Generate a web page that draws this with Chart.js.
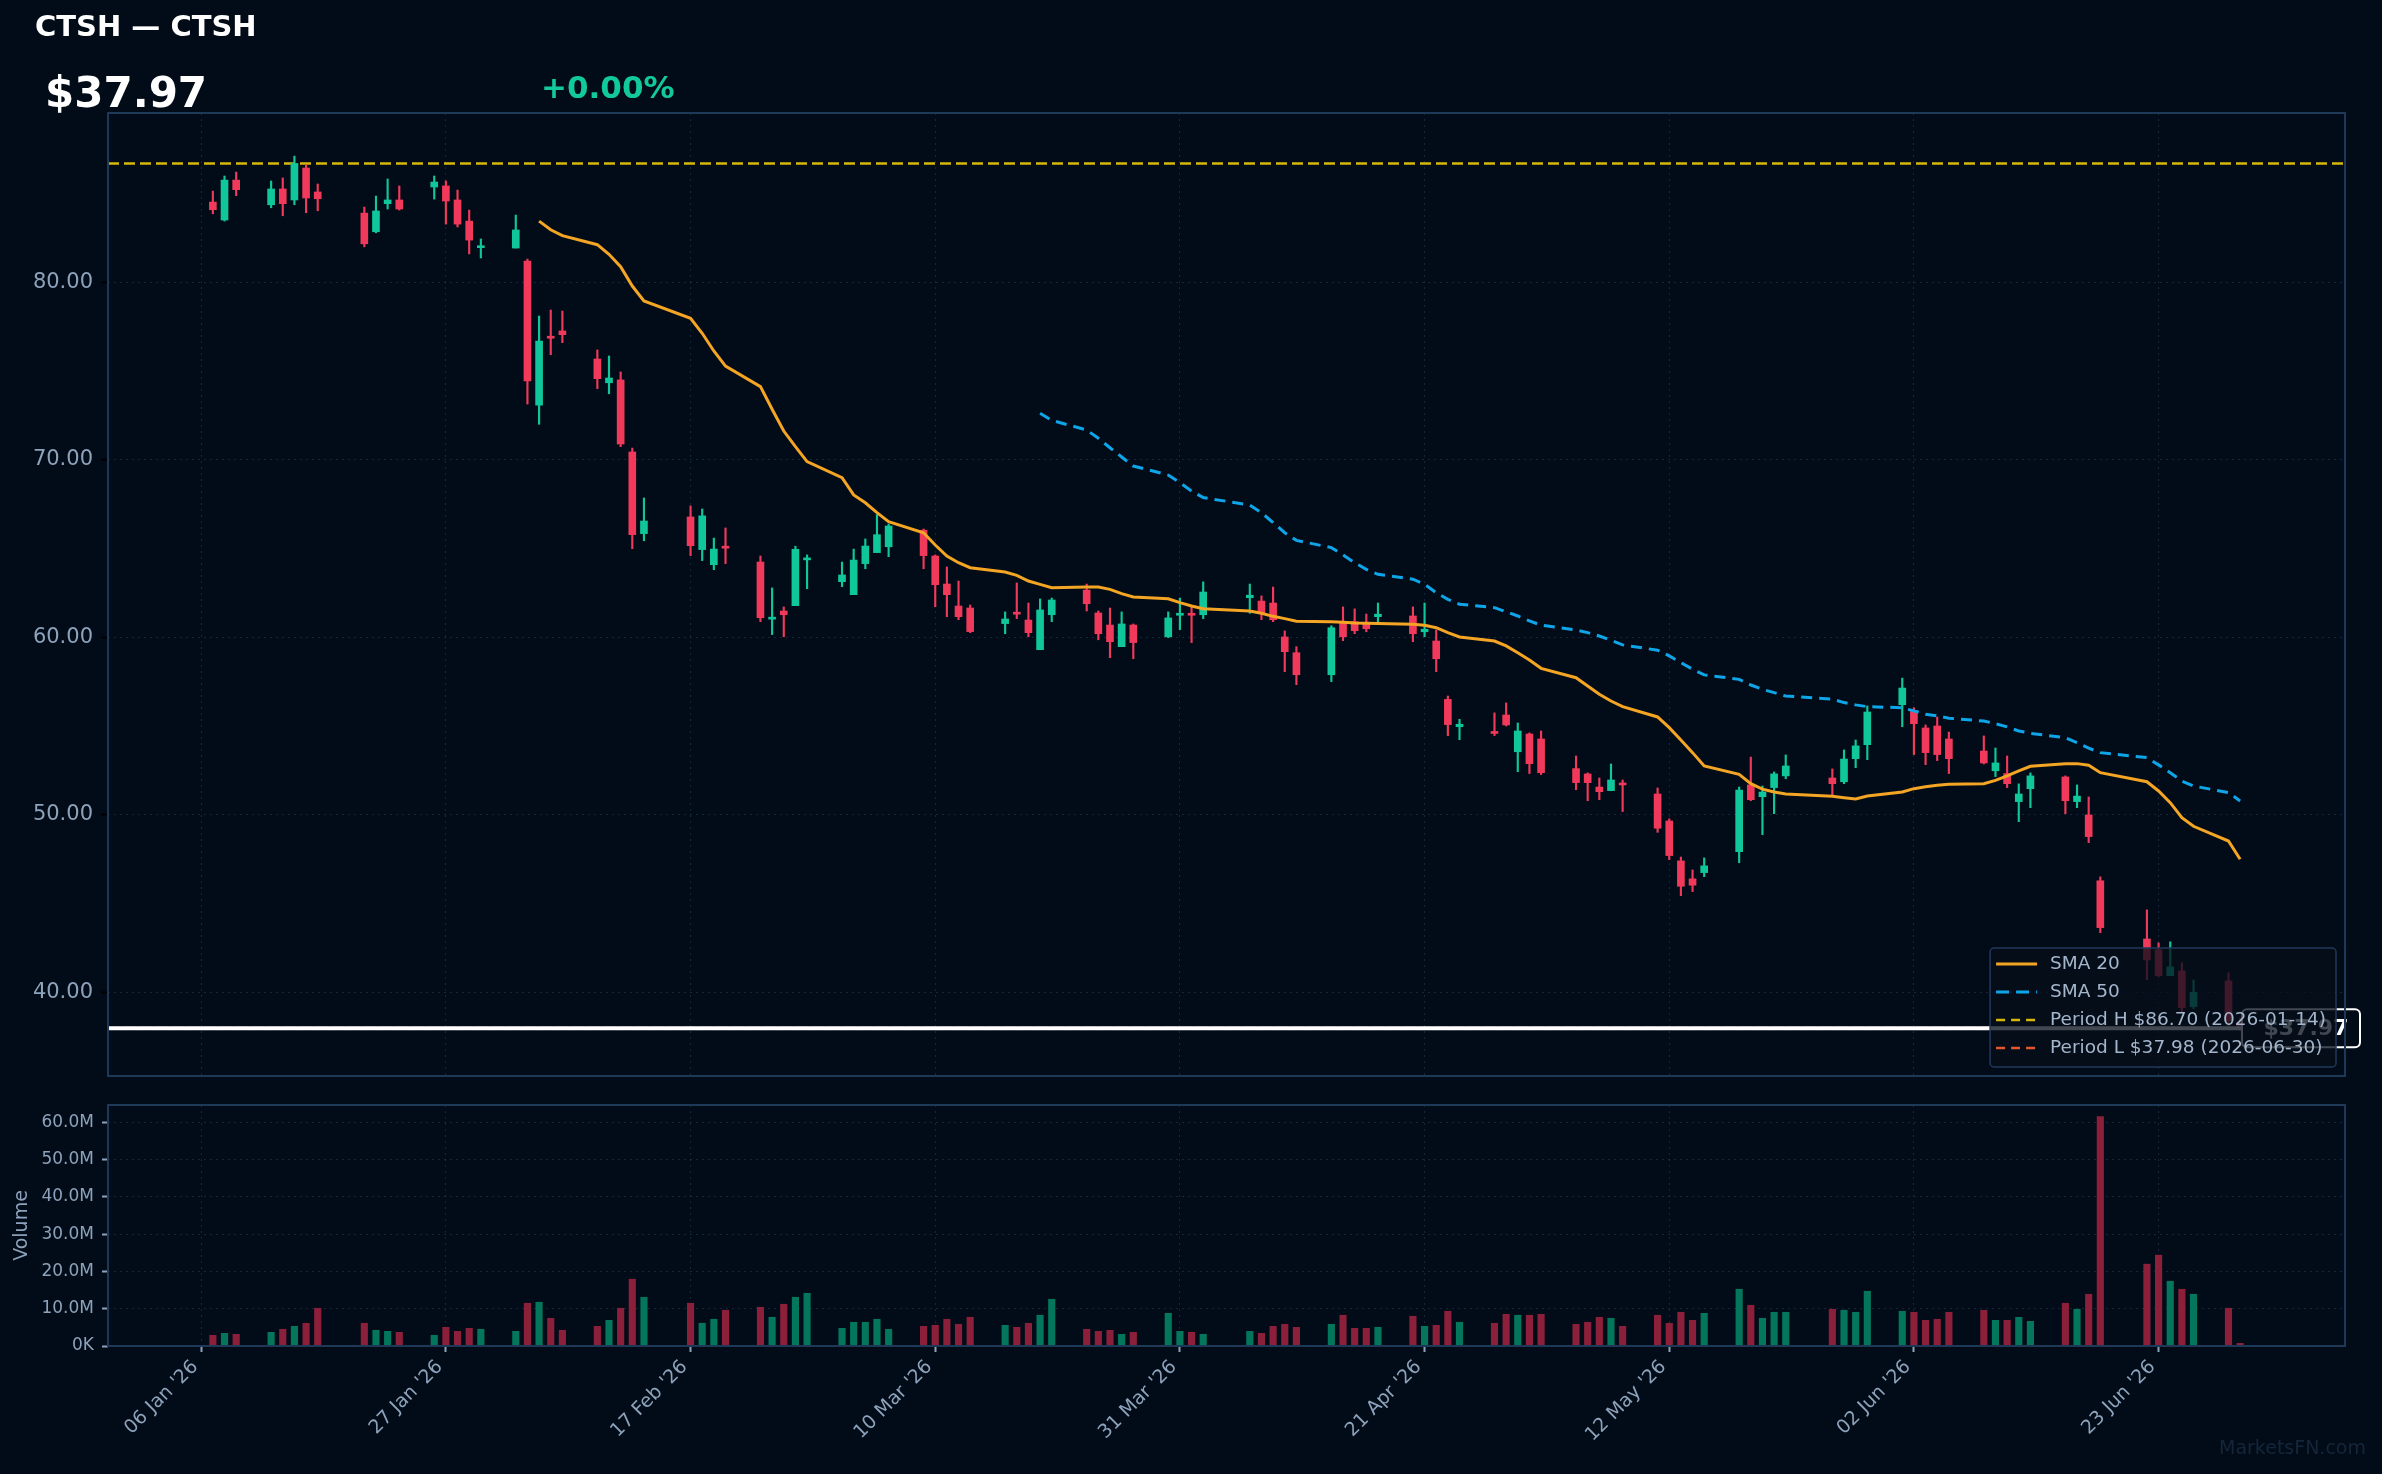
<!DOCTYPE html>
<html lang="en">
<head>
<meta charset="UTF-8">
<title>CTSH — CTSH</title>
<script src="https://cdn.jsdelivr.net/npm/chart.js@4"></script>
<style>
    body {
        margin: 0;
        width: 2382px;
        height: 1474px;
        overflow: hidden;
        position: relative;
        background: #020c18;
        font-family: 'DejaVu Sans', sans-serif;
    }
    .hdr {
        position: absolute;
        line-height: 1;
        white-space: nowrap;
        font-weight: bold;
        z-index: 2;
    }
    #title { left: 35px; top: 12px; font-size: 29px; color: #ffffff; }
    #lastPrice { left: 45px; top: 72px; font-size: 42px; color: #ffffff; }
    #change { left: 541px; top: 72px; font-size: 31px; color: #12c99b; }
    #watermark {
        position: absolute;
        right: 16px;
        top: 1438px;
        font-size: 19px;
        line-height: 1;
        color: #15263a;
    }
    #priceCanvas { position: absolute; left: 0; top: 1px; }
    #volumeCanvas { position: absolute; left: 0; top: 1080px; }
</style>
</head>
<body>
<div class="hdr" id="title">CTSH — CTSH</div>
<div class="hdr" id="lastPrice">$37.97</div>
<div class="hdr" id="change">+0.00%</div>
<canvas id="priceCanvas" width="2382" height="1100"></canvas>
<canvas id="volumeCanvas" width="2382" height="394"></canvas>
<div id="watermark">MarketsFN.com</div>

<script>
// ---- data ----
const dates = [
    '2026-01-07','2026-01-08','2026-01-09',
    '2026-01-12','2026-01-13','2026-01-14','2026-01-15','2026-01-16',
    '2026-01-20','2026-01-21','2026-01-22','2026-01-23',
    '2026-01-26','2026-01-27','2026-01-28','2026-01-29','2026-01-30',
    '2026-02-02','2026-02-03','2026-02-04','2026-02-05','2026-02-06',
    '2026-02-09','2026-02-10','2026-02-11','2026-02-12','2026-02-13',
    '2026-02-17','2026-02-18','2026-02-19','2026-02-20',
    '2026-02-23','2026-02-24','2026-02-25','2026-02-26','2026-02-27',
    '2026-03-02','2026-03-03','2026-03-04','2026-03-05','2026-03-06',
    '2026-03-09','2026-03-10','2026-03-11','2026-03-12','2026-03-13',
    '2026-03-16','2026-03-17','2026-03-18','2026-03-19','2026-03-20',
    '2026-03-23','2026-03-24','2026-03-25','2026-03-26','2026-03-27',
    '2026-03-30','2026-03-31','2026-04-01','2026-04-02',
    '2026-04-06','2026-04-07','2026-04-08','2026-04-09','2026-04-10',
    '2026-04-13','2026-04-14','2026-04-15','2026-04-16','2026-04-17',
    '2026-04-20','2026-04-21','2026-04-22','2026-04-23','2026-04-24',
    '2026-04-27','2026-04-28','2026-04-29','2026-04-30','2026-05-01',
    '2026-05-04','2026-05-05','2026-05-06','2026-05-07','2026-05-08',
    '2026-05-11','2026-05-12','2026-05-13','2026-05-14','2026-05-15',
    '2026-05-18','2026-05-19','2026-05-20','2026-05-21','2026-05-22',
    '2026-05-26','2026-05-27','2026-05-28','2026-05-29',
    '2026-06-01','2026-06-02','2026-06-03','2026-06-04','2026-06-05',
    '2026-06-08','2026-06-09','2026-06-10','2026-06-11','2026-06-12',
    '2026-06-15','2026-06-16','2026-06-17','2026-06-18',
    '2026-06-22','2026-06-23','2026-06-24','2026-06-25','2026-06-26',
    '2026-06-29','2026-06-30'
];

const openP = [
    84.52,83.51,85.76,84.37,85.26,84.64,86.44,85.09,83.90,82.85,84.43,84.64,85.37,85.43,84.64,83.45,81.95,81.93,81.20,73.08,
    76.92,77.26,75.68,74.34,74.50,70.44,65.84,66.78,64.94,64.09,65.10,64.24,61.02,61.48,61.78,64.36,63.13,62.40,64.15,64.77,
    65.10,66.03,64.58,63.00,61.76,61.65,60.77,61.36,60.97,59.30,61.27,62.66,61.37,60.69,59.47,60.69,60.03,61.24,61.28,61.27,
    62.23,62.04,61.93,60.02,59.13,57.89,60.80,60.88,60.77,61.16,61.20,60.31,59.79,56.50,54.96,54.66,55.62,53.55,54.55,54.27,
    52.60,52.30,51.56,51.36,51.75,51.17,49.65,47.40,46.39,46.74,47.92,51.68,51.02,51.53,52.19,52.07,51.86,53.16,53.95,56.20,
    55.86,54.89,55.00,54.27,53.59,52.48,52.32,50.74,51.47,52.13,50.74,49.99,46.28,43.00,42.39,40.93,41.20,39.19,40.64,38.30
];
const highP = [
    85.14,85.99,86.21,85.71,85.88,87.11,86.61,85.54,84.24,84.86,85.82,85.43,85.99,85.71,85.20,84.07,82.44,83.79,81.31,78.10,
    78.44,78.38,76.19,75.85,74.95,70.66,67.85,67.40,67.23,65.59,66.16,64.58,62.78,61.71,65.13,64.64,64.24,64.97,65.54,66.91,
    66.38,66.10,64.64,63.96,63.17,61.82,61.43,63.06,61.93,62.16,62.21,63.00,61.48,61.65,61.43,60.75,61.43,62.21,61.71,63.12,
    63.00,62.33,62.83,60.36,59.47,60.65,61.71,61.60,61.31,61.93,61.71,61.93,60.41,56.69,55.38,55.74,56.30,55.17,54.61,54.72,
    53.31,52.36,52.07,52.86,51.96,51.51,49.77,47.62,46.89,47.57,51.56,53.25,51.62,52.41,53.37,52.58,53.65,54.21,56.13,57.70,
    56.03,55.06,55.51,54.66,54.44,53.76,53.31,51.74,52.36,52.19,51.68,51.00,46.50,44.64,42.78,42.84,41.66,40.69,41.10,38.55
];
const lowP = [
    83.86,83.45,84.88,84.20,83.75,84.37,83.92,84.03,82.00,82.79,84.13,84.07,84.69,83.28,83.12,81.60,81.37,81.93,73.14,72.00,
    75.92,76.60,74.01,73.72,70.74,64.99,65.44,64.60,64.32,63.81,64.15,60.88,60.15,60.03,61.78,62.74,62.85,62.40,63.86,64.77,
    64.54,63.86,61.72,61.16,60.99,60.26,60.20,61.05,60.03,59.30,60.88,61.48,59.86,58.85,59.47,58.79,59.98,60.43,59.70,61.05,
    61.35,60.99,60.88,58.06,57.33,57.50,59.81,60.20,60.31,60.88,59.75,60.03,58.06,54.46,54.23,54.46,55.00,52.43,52.32,52.26,
    51.41,50.79,50.85,51.36,50.18,49.01,47.47,45.44,45.67,46.51,47.30,50.79,48.88,50.06,52.03,51.12,51.75,52.65,53.10,54.96,
    53.39,52.82,53.05,52.32,52.86,52.15,51.53,49.61,50.40,50.06,50.40,48.43,43.36,40.71,40.88,40.93,38.85,39.08,38.10,37.85
];
const closeP = [
    84.09,85.76,85.22,85.26,84.43,86.70,84.75,84.71,82.17,84.02,84.64,84.13,85.65,84.58,83.28,82.38,82.05,82.95,74.44,76.69,
    76.85,77.05,74.57,74.61,70.89,65.78,66.55,65.16,66.84,64.97,65.02,61.10,61.08,61.27,64.96,64.41,63.51,64.35,65.14,65.78,
    66.27,64.60,62.96,62.40,61.16,60.32,61.03,61.30,60.26,61.54,62.10,61.89,60.20,59.75,60.75,59.70,61.09,61.35,61.24,62.55,
    62.37,61.33,60.99,59.19,57.89,60.54,60.03,60.37,60.48,61.30,60.20,60.45,58.79,55.08,55.10,54.58,55.06,54.72,52.88,52.37,
    51.81,51.81,51.30,51.96,51.68,49.24,47.70,45.97,46.03,47.12,51.39,50.85,51.28,52.30,52.75,51.75,53.14,53.88,55.79,57.14,
    55.13,53.50,53.39,53.16,52.92,52.92,51.75,51.17,52.19,50.79,51.05,48.77,43.64,41.82,40.93,41.43,39.13,40.00,38.40,37.98
];
// volume in millions
const volumeM = [
    2.86,3.40,3.13,3.67,4.48,5.28,6.09,10.12,6.09,4.21,3.94,3.67,2.86,5.01,3.94,4.74,4.48,3.94,11.46,11.73,
    7.43,4.21,5.28,6.89,10.12,17.90,13.07,11.46,6.09,7.16,9.58,10.38,7.70,11.19,13.07,14.14,4.74,6.36,6.36,7.16,
    4.48,5.28,5.55,7.16,5.82,7.70,5.55,5.01,6.09,8.24,12.53,4.48,3.94,4.21,3.13,3.67,8.77,3.94,3.67,3.13,
    3.94,3.40,5.28,5.82,5.01,5.82,8.24,4.74,4.74,5.01,7.97,5.28,5.55,9.31,6.36,6.09,8.50,8.24,8.24,8.50,
    5.82,6.36,7.70,7.43,5.28,8.24,6.09,9.04,6.89,8.77,15.22,10.92,7.43,9.04,9.04,9.85,9.58,9.04,14.68,9.31,
    9.04,6.89,7.16,9.04,9.58,6.89,6.89,7.70,6.62,11.46,9.85,13.88,61.50,21.93,24.35,17.37,15.22,13.88,10.12,0.72
];
// moving averages, aligned to the last dates
const sma20 = [
    83.45,82.96,82.63,82.12,81.58,80.88,79.79,78.95,77.97,77.13,76.13,75.28,74.12,72.85,71.62,70.74,69.90,68.99,68.02,67.58,
    67.02,66.51,65.89,65.20,64.58,64.20,63.92,63.68,63.49,63.17,62.98,62.79,62.83,62.83,62.70,62.46,62.27,62.17,61.95,61.76,
    61.61,61.48,61.35,61.18,61.05,60.90,60.88,60.85,60.81,60.79,60.77,60.73,60.68,60.54,60.26,60.02,59.79,59.51,59.13,58.72,
    58.25,57.72,57.26,56.79,56.41,56.09,55.51,54.91,54.21,53.50,52.75,52.28,51.75,51.44,51.28,51.17,51.04,50.96,50.89,51.06,
    51.28,51.47,51.58,51.66,51.72,51.75,51.94,52.19,52.47,52.73,52.88,52.88,52.79,52.37,51.86,51.34,50.68,49.84,49.35,48.52,
    47.49
];
const sma50 = [
    72.62,72.22,71.68,71.21,70.68,70.16,69.65,69.14,68.71,68.24,67.87,67.45,67.02,66.46,65.89,65.46,65.05,64.64,64.20,63.83,
    63.55,63.27,62.99,62.51,62.14,61.86,61.67,61.44,61.20,60.92,60.68,60.41,60.26,60.07,59.83,59.57,59.27,58.95,58.57,58.20,
    57.88,57.63,57.31,57.07,56.88,56.69,56.51,56.32,56.19,56.09,56.03,55.85,55.66,55.57,55.44,55.28,55.13,54.95,54.72,54.59,
    54.34,54.06,53.75,53.50,53.22,52.81,52.37,51.90,51.62,51.25,50.78
];

const tickDates = ['2026-01-06','2026-01-27','2026-02-17','2026-03-10','2026-03-31','2026-04-21','2026-05-12','2026-06-02','2026-06-23'];
const tickLabels = ["06 Jan '26","27 Jan '26","17 Feb '26","10 Mar '26","31 Mar '26","21 Apr '26","12 May '26","02 Jun '26","23 Jun '26"];
const seriesNames = ['SMA 20', 'SMA 50'];
const periodHigh = 86.70, periodHighDate = '2026-01-14';
const periodLow = 37.98, periodLowDate = '2026-06-30';
const lastClose = 37.97;

// ---- styling ----
const C = {
    up: '#0fc79b', down: '#f0395b',
    volUp: '#03765b', volDown: '#8c1f3a',
    sma20: '#f5a524', sma50: '#0ea5e9',
    high: '#d6b70a', low: '#e4572e',
    grid: 'rgba(70,100,140,0.30)', frame: '#1e3858', tick: '#8da2bb'
};
Chart.defaults.font.family = "'DejaVu Sans', sans-serif";

const day0 = Date.UTC(2026, 0, 6);
const dayNum = s => (Date.parse(s + 'T00:00:00Z') - day0) / 864e5;
const xDays = dates.map(dayNum);
const isUp = closeP.map((c, i) => c >= openP[i]);
const setDateTicks = s => { s.ticks = tickDates.map(d => ({ value: dayNum(d) })); };
const xMin = -8, xMax = 184;

function strokeFrame(chart) {
    const { ctx, chartArea: a } = chart;
    ctx.save();
    ctx.strokeStyle = C.frame;
    ctx.lineWidth = 2;
    ctx.strokeRect(a.left, a.top, a.width, a.height);
    ctx.restore();
}

function hLine(ctx, a, y, color, dash, width) {
    ctx.save();
    ctx.strokeStyle = color;
    ctx.lineWidth = width;
    ctx.setLineDash(dash);
    ctx.beginPath();
    ctx.moveTo(a.left, y);
    ctx.lineTo(a.right, y);
    ctx.stroke();
    ctx.restore();
}

const priceOverlay = {
    id: 'priceOverlay',
    beforeDatasetsDraw(chart) {
        const { ctx, chartArea: a, scales: { y } } = chart;
        hLine(ctx, a, y.getPixelForValue(periodHigh), C.high, [11, 5], 2.5);
        hLine(ctx, a, y.getPixelForValue(periodLow), C.low, [11, 5], 2.5);
    },
    afterDatasetsDraw(chart) {
        const { ctx, chartArea: a, scales: { y } } = chart;
        const py = y.getPixelForValue(lastClose);
        hLine(ctx, a, py, '#ffffff', [], 4);

        // last price tag
        ctx.save();
        ctx.beginPath();
        ctx.roundRect(a.right - 103, py - 19, 118, 38, 5);
        ctx.fillStyle = '#020c18';
        ctx.fill();
        ctx.lineWidth = 2;
        ctx.strokeStyle = '#ffffff';
        ctx.stroke();
        ctx.fillStyle = '#ffffff';
        ctx.font = "bold 22px 'DejaVu Sans'";
        ctx.textAlign = 'center';
        ctx.textBaseline = 'middle';
        ctx.fillText('$' + lastClose.toFixed(2), a.right - 39, py + 1);
        ctx.restore();

        // legend
        const items = [
            { text: seriesNames[0], color: C.sma20, dash: [], width: 3 },
            { text: seriesNames[1], color: C.sma50, dash: [13, 7], width: 3 },
            { text: `Period H $${periodHigh.toFixed(2)} (${periodHighDate})`, color: C.high, dash: [9, 6], width: 2.5 },
            { text: `Period L $${periodLow.toFixed(2)} (${periodLowDate})`, color: C.low, dash: [9, 6], width: 2.5 }
        ];
        ctx.save();
        ctx.font = "18.5px 'DejaVu Sans'";
        const maxW = Math.max(...items.map(it => ctx.measureText(it.text).width));
        const boxW = 6 + 41 + 13 + maxW + 10;
        const boxH = 119;
        const bx = a.right - 9 - boxW, by = a.bottom - 9 - boxH;
        ctx.beginPath();
        ctx.roundRect(bx, by, boxW, boxH, 4);
        ctx.fillStyle = 'rgba(6,14,26,0.76)';
        ctx.fill();
        ctx.lineWidth = 1.5;
        ctx.strokeStyle = '#22385a';
        ctx.stroke();
        items.forEach((it, i) => {
            const ry = by + 16 + i * 28;
            ctx.strokeStyle = it.color;
            ctx.lineWidth = it.width;
            ctx.setLineDash(it.dash);
            ctx.beginPath();
            ctx.moveTo(bx + 6, ry);
            ctx.lineTo(bx + 47, ry);
            ctx.stroke();
            ctx.setLineDash([]);
            ctx.fillStyle = '#a3b6cc';
            ctx.textBaseline = 'middle';
            ctx.fillText(it.text, bx + 60, ry);
        });
        ctx.restore();

        strokeFrame(chart);
    }
};

new Chart(document.getElementById('priceCanvas'), {
    type: 'bar',
    data: {
        datasets: [
            {
                type: 'line', label: seriesNames[0],
                data: sma20.map((v, i) => ({ x: xDays[xDays.length - sma20.length + i], y: v })),
                borderColor: C.sma20, borderWidth: 3, pointRadius: 0, tension: 0, order: 0
            },
            {
                type: 'line', label: seriesNames[1],
                data: sma50.map((v, i) => ({ x: xDays[xDays.length - sma50.length + i], y: v })),
                borderColor: C.sma50, borderWidth: 3, borderDash: [11, 7], pointRadius: 0, tension: 0, order: 0
            },
            {
                label: 'body',
                data: xDays.map((x, i) => ({ x: x, y: [openP[i], closeP[i]] })),
                backgroundColor: isUp.map(u => u ? C.up : C.down),
                barThickness: 7, minBarLength: 2, grouped: false, borderWidth: 0, order: 1
            },
            {
                label: 'wick',
                data: xDays.map((x, i) => ({ x: x, y: [lowP[i], highP[i]] })),
                backgroundColor: isUp.map(u => u ? C.up : C.down),
                barThickness: 1.5, grouped: false, borderWidth: 0, order: 2
            }
        ]
    },
    options: {
        responsive: false,
        maintainAspectRatio: false,
        animation: false,
        events: [],
        // bottom padding must exceed the y-axis label overhang (label half-height + tick padding)
        layout: { padding: { top: 112, right: 37, bottom: 25, left: 0 } },
        plugins: { legend: { display: false }, tooltip: { enabled: false } },
        scales: {
            x: {
                type: 'linear', min: xMin, max: xMax, offset: false,
                grid: { color: C.grid, offset: false, drawTicks: false },
                border: { display: false, dash: [2, 4] },
                ticks: { display: false },
                afterBuildTicks: setDateTicks,
                afterFit: s => { s.height = 0; }
            },
            y: {
                min: 35.28, max: 89.54,
                grid: { color: C.grid, tickColor: '#000000', tickLength: 7, tickWidth: 2 },
                border: { display: false, dash: [2, 4] },
                ticks: {
                    stepSize: 10, includeBounds: false, color: C.tick, padding: 8,
                    font: { size: 21 }, callback: v => v.toFixed(2)
                },
                afterFit: s => { s.width = 108; }
            }
        }
    },
    plugins: [priceOverlay]
});

new Chart(document.getElementById('volumeCanvas'), {
    type: 'bar',
    data: {
        datasets: [{
            label: 'Volume',
            data: xDays.map((x, i) => ({ x: x, y: volumeM[i] })),
            backgroundColor: isUp.map(u => u ? C.volUp : C.volDown),
            barThickness: 6.5, grouped: false, borderWidth: 0
        }]
    },
    options: {
        responsive: false,
        maintainAspectRatio: false,
        animation: false,
        events: [],
        layout: { padding: { top: 25, right: 37, bottom: 0, left: 0 } },
        plugins: { legend: { display: false }, tooltip: { enabled: false } },
        scales: {
            x: {
                type: 'linear', min: xMin, max: xMax, offset: false,
                grid: { color: C.grid, offset: false, tickColor: C.tick, tickLength: 6, tickWidth: 2 },
                border: { display: false, dash: [2, 4] },
                ticks: {
                    autoSkip: false, minRotation: 45, maxRotation: 45, padding: 4, labelOffset: -6,
                    color: C.tick, font: { size: 19 },
                    callback: (v, i) => tickLabels[i]
                },
                afterBuildTicks: setDateTicks,
                afterFit: s => { s.height = 128; }
            },
            y: {
                min: 0, max: 64.6,
                grid: { color: C.grid, tickColor: C.tick, tickLength: 6, tickWidth: 2 },
                border: { display: false, dash: [2, 4] },
                title: { display: true, text: 'Volume', color: C.tick, font: { size: 19 }, padding: { top: 11, bottom: 0 } },
                ticks: {
                    stepSize: 10, includeBounds: false, color: C.tick, padding: 8,
                    font: { size: 17 }, callback: v => v === 0 ? '0K' : v.toFixed(1) + 'M'
                },
                afterFit: s => { s.width = 108; }
            }
        }
    },
    plugins: [{ id: 'volFrame', afterDatasetsDraw: strokeFrame }]
});
</script>
</body>
</html>
